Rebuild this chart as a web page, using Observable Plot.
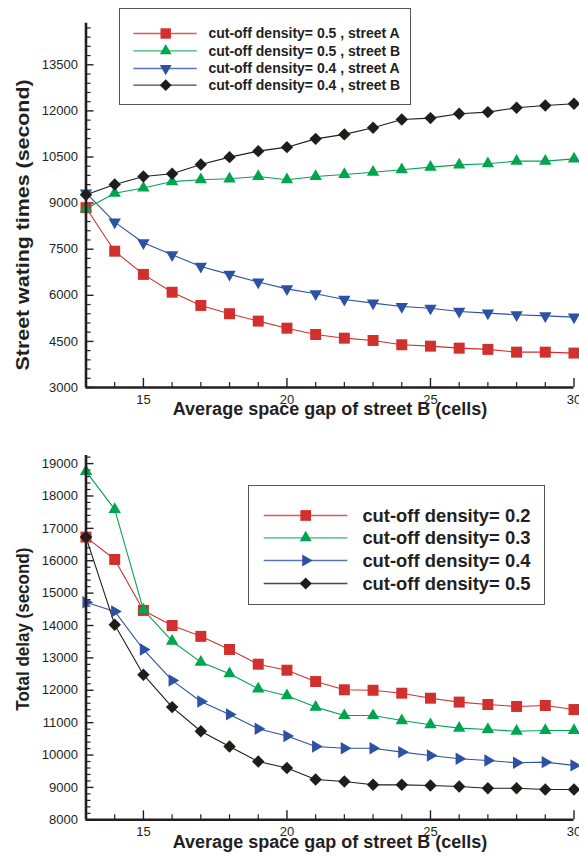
<!DOCTYPE html>
<html><head><meta charset="utf-8">
<script src="https://cdn.jsdelivr.net/npm/d3@7"></script>
<script src="https://cdn.jsdelivr.net/npm/@observablehq/plot@0.6"></script>
<style>
html,body{margin:0;padding:0;background:#fff;overflow:hidden;}
#wrap{position:relative;width:579px;height:859px;overflow:hidden;font-family:"Liberation Sans",Arial,Helvetica,sans-serif;}
.panel{position:absolute;left:0;}
.panel svg{overflow:visible;}
.legend{position:absolute;background:#fff;border:1.5px solid #555;box-sizing:border-box;}
.legend svg{display:block;}
</style></head><body><div id="wrap"></div>
<script>
// ---------- data ----------
const gaps = [13,14,15,16,17,18,19,20,21,22,23,24,25,26,27,28,29,30];
const xTickLabels = [15,20,25,30];

// top panel: street waiting times (second)
const topLabels = ["cut-off density= 0.5 , street A","cut-off density= 0.5 , street B","cut-off density= 0.4 , street A","cut-off density= 0.4 , street B"];
const wait05A = [8850,7435,6680,6100,5670,5400,5160,4930,4725,4605,4530,4390,4345,4280,4240,4150,4150,4120];
const wait05B = [8815,9320,9490,9700,9760,9790,9865,9760,9865,9930,10005,10085,10170,10245,10280,10365,10365,10440];
const wait04A = [9330,8380,7710,7320,6940,6680,6430,6210,6050,5865,5745,5635,5580,5475,5420,5365,5330,5290];
const wait04B = [9270,9605,9865,9955,10255,10495,10690,10820,11090,11235,11450,11720,11765,11905,11960,12100,12175,12230];
const topYTicks = [3000,4500,6000,7500,9000,10500,12000,13500];

// bottom panel: total delay (second)
const botLabels = ["cut-off density= 0.2","cut-off density= 0.3","cut-off density= 0.4","cut-off density= 0.5"];
const delay02 = [16730,16040,14465,14000,13665,13260,12805,12620,12270,12015,12000,11910,11755,11635,11560,11500,11530,11405];
const delay03 = [18760,17585,14485,13515,12870,12510,12045,11830,11480,11220,11220,11065,10935,10830,10790,10735,10760,10760];
const delay04 = [14720,14435,13260,12305,11655,11255,10810,10590,10265,10210,10210,10090,9985,9885,9830,9760,9780,9680];
const delay05 = [16730,14025,12480,11480,10735,10265,9800,9600,9245,9185,9080,9080,9060,9030,8975,8975,8935,8935];
const botYTicks = [8000,9000,10000,11000,12000,13000,14000,15000,16000,17000,18000,19000];

// ---------- styles ----------
const RED="#d2302f", GREEN="#00a550", BLUE="#2d51a3", BLACK="#1d1d1b", INK="#231f20";
const FONT='"Liberation Sans",Arial,Helvetica,sans-serif';
const sty = {
  sq:{symbol:"square", rotate:0, r:6.2},
  up:{symbol:"triangle", rotate:0, r:4.6},
  down:{symbol:"triangle", rotate:180, r:4.6},
  right:{symbol:"triangle", rotate:90, r:4.6},
  dia:{symbol:"diamond2", rotate:0, r:5.6}
};
const d3sym = {square:d3.symbolSquare, triangle:d3.symbolTriangle, diamond2:d3.symbolDiamond2};

const topSeries = [
  {name:topLabels[0], values:wait05A, color:RED, m:sty.sq},
  {name:topLabels[2], values:wait04A, color:BLUE, m:sty.down},
  {name:topLabels[1], values:wait05B, color:GREEN, m:sty.up},
  {name:topLabels[3], values:wait04B, color:BLACK, m:sty.dia}
];
const topLegendOrder = [0,2,1,3];
const botSeries = [
  {name:botLabels[0], values:delay02, color:RED, m:sty.sq},
  {name:botLabels[1], values:delay03, color:GREEN, m:sty.up},
  {name:botLabels[2], values:delay04, color:BLUE, m:sty.right},
  {name:botLabels[3], values:delay05, color:BLACK, m:sty.dia}
];

const wrap = document.getElementById("wrap");

function panel(o){
  const xDomain=[13,30], ml=85.5, mr=5.5;
  const pxX=(xDomain[1]-xDomain[0])/(579-ml-mr);
  const pxY=(o.yDomain[1]-o.yDomain[0])/(o.height-o.marginTop-o.marginBottom);
  const xMinor=gaps.filter(g=>!xTickLabels.includes(g) && g!==13);
  const yMinor=d3.range(o.yDomain[0]+o.minorStep,o.yDomain[1],o.minorStep).filter(v=>!o.yTicks.includes(v));
  const marks=[
    Plot.ruleY(o.yTicks,{y:d=>d,x1:13,x2:13+8*pxX,stroke:INK,strokeWidth:1.4}),
    Plot.ruleY(yMinor,{y:d=>d,x1:13,x2:13+5*pxX,stroke:INK,strokeWidth:1.2}),
    Plot.ruleX(xTickLabels,{x:d=>d,y1:o.yDomain[0],y2:o.yDomain[0]+9*pxY,stroke:INK,strokeWidth:1.4}),
    Plot.ruleX(xMinor,{x:d=>d,y1:o.yDomain[0],y2:o.yDomain[0]+5*pxY,stroke:INK,strokeWidth:1.2}),
    Plot.axisY(o.yTicks,{tickSize:0,tickPadding:8,fontSize:13,color:INK,label:null,tickFormat:d=>String(d)}),
    Plot.axisX(xTickLabels,{tickSize:0,tickPadding:7,fontSize:13,color:INK,label:null,tickFormat:d=>String(d)})
  ];
  for(const s of o.series){
    const rows=gaps.map((g,i)=>({gap:g,v:s.values[i]}));
    marks.push(Plot.line(rows,{x:"gap",y:"v",stroke:s.color,strokeWidth:1.1}));
  }
  for(const s of o.series){
    const rows=gaps.map((g,i)=>({gap:g,v:s.values[i]}));
    marks.push(Plot.dot(rows,{x:"gap",y:"v",symbol:s.m.symbol,rotate:s.m.rotate,r:s.m.r,fill:s.color,stroke:"none"}));
  }
  marks.push(
    Plot.ruleX([13],{stroke:INK,strokeWidth:2.6}),
    Plot.ruleY([o.yDomain[0]],{stroke:INK,strokeWidth:2.6}),
    Plot.text([o.yLabel],{text:d=>d,frameAnchor:"left",dx:-63,dy:o.yLabelDy+o.yLabelLen/2,rotate:-90,textAnchor:"start",fontSize:19,fontWeight:"bold",fill:INK}),
    Plot.text([o.xLabel],{text:d=>d,frameAnchor:"bottom",dy:o.xLabelDy,fontSize:18,fontWeight:"bold",fill:INK})
  );
  const p=Plot.plot({
    width:579,height:o.height,marginLeft:ml,marginRight:mr,marginTop:o.marginTop,marginBottom:o.marginBottom,
    style:{fontFamily:FONT,background:"transparent",overflow:"visible"},
    x:{domain:xDomain},
    y:{domain:o.yDomain},
    marks
  });
  d3.select(p).selectAll("text").filter(function(){return this.textContent===o.yLabel;})
    .attr("textLength",o.yLabelLen).attr("lengthAdjust","spacingAndGlyphs");
  const div=document.createElement("div");
  div.className="panel"; div.style.top=o.top+"px";
  div.appendChild(p); wrap.appendChild(div);
}

function legend(o){
  const div=document.createElement("div");
  div.className="legend";
  Object.assign(div.style,{left:o.left+"px",top:o.top+"px",width:o.width+"px",height:o.height+"px"});
  const svg=d3.create("svg").attr("width",o.width-3).attr("height",o.height-3);
  o.items.forEach((s,i)=>{
    const y=o.rowY[i]-1.5;
    svg.append("line").attr("x1",o.lineX[0]).attr("x2",o.lineX[1]).attr("y1",y).attr("y2",y)
      .attr("stroke",s.color).attr("stroke-width",1.3).attr("stroke-opacity",0.8);
    const sym=d3.symbol().type(d3sym[s.m.symbol]).size(Math.PI*s.m.r*s.m.r*o.scale);
    svg.append("path").attr("d",sym()).attr("fill",s.color)
      .attr("transform",`translate(${o.markX},${y}) rotate(${s.m.rotate})`);
    svg.append("text").attr("x",o.textX).attr("y",y).attr("dy","0.35em")
      .attr("font-family",FONT).attr("font-weight","bold").attr("font-size",o.fontSize)
      .attr("fill",INK).text(s.name);
  });
  div.appendChild(svg.node());
  wrap.appendChild(div);
}

panel({series:topSeries,yDomain:[3000,14850],yTicks:topYTicks,minorStep:300,height:430,marginTop:22.8,marginBottom:43,
  top:0,yLabel:"Street wating times (second)",yLabelLen:291,yLabelDy:19.5,xLabel:"Average space gap of street B (cells)",xLabelDy:27});
panel({series:botSeries,yDomain:[8000,19250],yTicks:botYTicks,minorStep:200,height:429,marginTop:25,marginBottom:39.7,
  top:430,yLabel:"Total delay (second)",yLabelLen:163,yLabelDy:-8.5,xLabel:"Average space gap of street B (cells)",xLabelDy:28.2});

legend({items:topLegendOrder.map(i=>topSeries[i]).map((s,k)=>({...s,name:topLabels[k]})),
  left:119.3,top:8.3,width:292,height:97,rowY:[26,43.4,61,77.7],lineX:[13.4,76.7],markX:45.7,textX:88.4,fontSize:14,scale:0.9});
legend({items:botSeries,left:248.3,top:485,width:297,height:120,rowY:[31,53.3,76,99],lineX:[14.7,98.4],markX:56.7,textX:113.4,fontSize:18.4,scale:0.95});
</script></body></html>
